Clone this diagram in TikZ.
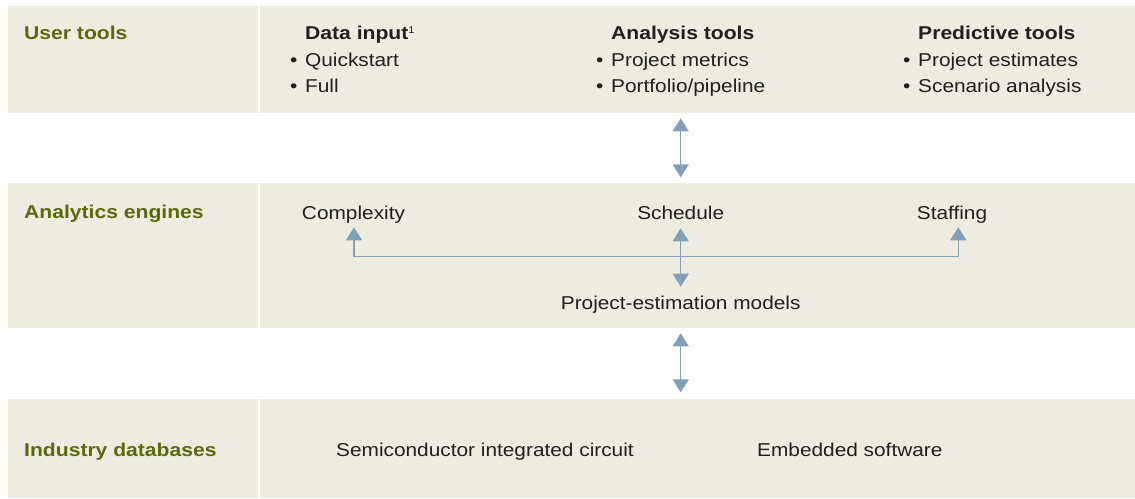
\documentclass[tikz,border=0pt]{standalone}
\usepackage{fontspec}
\setmainfont{Liberation Sans}[FakeStretch=1.12, BoldFeatures={FakeStretch=1.135}]
\usetikzlibrary{arrows.meta}
\definecolor{panel}{HTML}{EEEBE1}
\definecolor{rowlabel}{HTML}{5A6A0A}
\definecolor{link}{HTML}{7FA0B7}
\definecolor{ink}{HTML}{231F20}
\tikzset{
  panelbox/.style={fill=panel, draw=none},
  lbl/.style={anchor=base west, inner sep=0pt, font=\bfseries\fontsize{18.6}{22}\selectfont, text=rowlabel},
  head/.style={anchor=base west, inner sep=0pt, font=\bfseries\fontsize{18.6}{22}\selectfont, text=ink},
  item/.style={anchor=base west, inner sep=0pt, font=\fontsize{18.6}{22}\selectfont, text=ink},
  citem/.style={anchor=base, inner sep=0pt, font=\fontsize{18.6}{22}\selectfont, text=ink},
  con/.style={draw=link, line width=1.5pt, >={Triangle[width=16pt,length=13pt]}},
}
\newcommand{\bul}[1]{\makebox[15pt][l]{\textbullet}#1}
\begin{document}
\begin{tikzpicture}[x=1pt,y=-1pt]
\useasboundingbox (0,0) rectangle (1135,498);

% three bands, each split into a label column and a content column
\fill[panelbox] (8,6) rectangle (257.5,112.7);
\fill[panelbox] (260,6) rectangle (1135,112.7);
\fill[panelbox] (8,183.3) rectangle (257.5,327.7);
\fill[panelbox] (260,183.3) rectangle (1135,327.7);
\fill[panelbox] (8,399) rectangle (257.5,498);
\fill[panelbox] (260,399) rectangle (1135,498);

% row labels
\node[lbl] (rowA) at (24,39.5) {User tools};
\node[lbl] (rowB) at (24,218.5) {Analytics engines};
\node[lbl] (rowC) at (24,456.5) {Industry databases};

% user tools
\node[head] (dataIn) at (305,39.5) {Data input\textsuperscript{\normalfont\fontsize{10}{10}\selectfont 1}};
\node[item] (quick) at (290,66.5) {\bul{Quickstart}};
\node[item] (full) at (290,92.5) {\bul{Full}};
\node[head] (anaT) at (611,39.5) {Analysis tools};
\node[item] (metr) at (596,66.5) {\bul{Project metrics}};
\node[item] (port) at (596,92.5) {\bul{Portfolio/pipeline}};
\node[head] (predT) at (918,39.5) {Predictive tools};
\node[item] (est) at (903,66.5) {\bul{Project estimates}};
\node[item] (scen) at (903,92.5) {\bul{Scenario analysis}};

% analytics engines
\node[citem] (cmplx) at (353.5,219) {Complexity};
\node[citem] (sched) at (680.7,219) {Schedule};
\node[citem] (staff) at (952,219) {Staffing};
\node[citem] (pem) at (680.7,309.5) {Project-estimation models};

% industry databases
\node[item] (semi) at (336,456.5) {Semiconductor integrated circuit};
\node[item] (emb) at (757,456.5) {Embedded software};

% connector end points
\coordinate (upA) at (680.7,118.3);
\coordinate (upB) at (680.7,177.3);
\coordinate (cTip) at (354,227.3);
\coordinate (hTip) at (680.7,228.3);
\coordinate (sTip) at (958.3,227.3);
\coordinate (pTip) at (680.7,286.7);
\coordinate (bus) at (680.7,256.5);
\coordinate (loA) at (680.7,333.3);
\coordinate (loB) at (680.7,392.3);

% connectors
\draw[con, <->] (upA) -- (upB);
\draw[con, <->] (hTip) -- (pTip);
\draw[con, ->] (bus) -| (cTip);
\draw[con, ->] (bus) -| (sTip);
\draw[con, <->] (loA) -- (loB);
\end{tikzpicture}
\end{document}
